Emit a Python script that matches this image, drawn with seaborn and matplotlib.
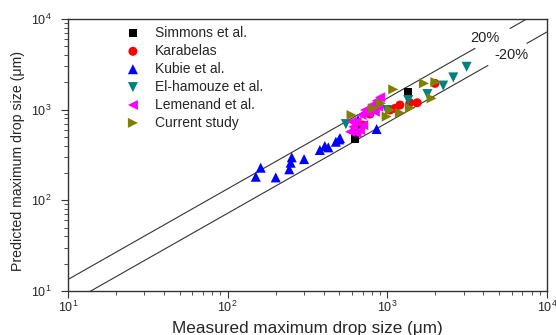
import numpy as np
import pandas as pd
import seaborn as sns
import matplotlib.pyplot as plt

# measured / predicted maximum drop size (um)
simmons_x = [1352, 627, 645]
simmons_y = [1552, 474, 643]

karabelas_x = [1116, 1199, 1384, 1538, 1038, 778, 1987, 703]
karabelas_y = [1033, 1124, 1192, 1192, 991, 895, 1950, 676]

kubie_x = [161, 150, 200, 243, 248, 252, 301, 378, 406, 427, 476, 500, 505, 857, 655, 627]
kubie_y = [229, 182, 179, 220, 260, 298, 285, 359, 397, 384, 443, 470, 486, 611, 768, 676]

elhamouze_x = [3137, 2588, 2239, 1782, 1352, 990, 550]
elhamouze_y = [2972, 2270, 1845, 1486, 1276, 991, 693]

lemenand_x = [899, 857, 798, 724, 690, 759, 642, 611, 673, 583, 642, 706, 877, 836, 597]
lemenand_y = [1367, 1253, 1124, 991, 872, 911, 736, 648, 596, 571, 548, 676, 1076, 948, 736]

current_x = [1089, 1695, 2000, 1893, 1384, 1038, 1199, 990, 597, 816, 912]
current_y = [1675, 1950, 2014, 1333, 1042, 991, 925, 839, 872, 1033, 1172]

# the two guide lines (x ranges, broken where the labels sit)
upper_k = 1.34
lower_k = 0.72
upper_x = [[10, 3540], [5860, 7480]]
lower_x = [[13.5, 4266], [7480, 10000]]

groups = [
    ("Simmons et al.", simmons_x, simmons_y, "s", "black", 32),
    ("Karabelas", karabelas_x, karabelas_y, "o", "red", 42),
    ("Kubie et al.", kubie_x, kubie_y, "^", "blue", 52),
    ("El-hamouze et al.", elhamouze_x, elhamouze_y, "v", "#008080", 52),
    ("Lemenand et al.", lemenand_x, lemenand_y, "<", "magenta", 52),
    ("Current study", current_x, current_y, ">", "#808000", 52),
]

sns.set_style("white")
plt.rcParams['font.family'] = ['Liberation Sans', 'DejaVu Sans']

fig = plt.figure(figsize=(5.56, 3.35), dpi=100)
ax = fig.add_axes([68/556, 1 - 291/335, 479/556, 272/335])

for xs in upper_x:
    xs = np.array(xs, dtype=float)
    ax.plot(xs, upper_k * xs, color="#333333", lw=0.8, zorder=1)
for xs in lower_x:
    xs = np.array(xs, dtype=float)
    ax.plot(xs, lower_k * xs, color="#333333", lw=0.8, zorder=1)

for name, xs, ys, m, c, s in groups:
    df = pd.DataFrame({"x": xs, "y": ys})
    sns.scatterplot(data=df, x="x", y="y", marker=m, color=c, s=s,
                    edgecolor="none", linewidth=0, label=name, ax=ax, zorder=3)

ax.set_xscale("log")
ax.set_yscale("log")
ax.set_xlim(10, 10000)
ax.set_ylim(10, 10000)

ax.text(4080, 6150, "20%", fontsize=10.5, ha="center", va="center", color="#222222")
ax.text(6030, 4000, "-20%", fontsize=10.5, ha="center", va="center", color="#222222")

ax.set_xlabel("Measured maximum drop size (\u03bcm)", fontsize=12.3)
ax.set_ylabel("Predicted maximum drop size (\u03bcm)", fontsize=10.2)
ax.xaxis.set_label_coords(0.5, -0.112)
ax.yaxis.set_label_coords(-0.09, 0.478)

ax.tick_params(axis="both", which="major", direction="out", length=5, width=0.8,
               labelsize=9, bottom=True, left=True, top=False, right=False, color="#333333")
ax.tick_params(axis="x", which="major", pad=1.5)
ax.tick_params(axis="y", which="major", pad=7)
ax.tick_params(axis="both", which="minor", direction="out", length=3, width=0.6,
               bottom=True, left=True, top=False, right=False, color="#333333")
for sp in ax.spines.values():
    sp.set_color("#333333")
    sp.set_linewidth(1.0)

ax.legend(loc="upper left", bbox_to_anchor=(0.121, 0.974), frameon=False,
          fontsize=10, labelspacing=0.28, handlelength=1.0, handletextpad=1.1,
          borderpad=0, borderaxespad=0, markerscale=1.0)

fig.savefig("out.png", dpi=100)
